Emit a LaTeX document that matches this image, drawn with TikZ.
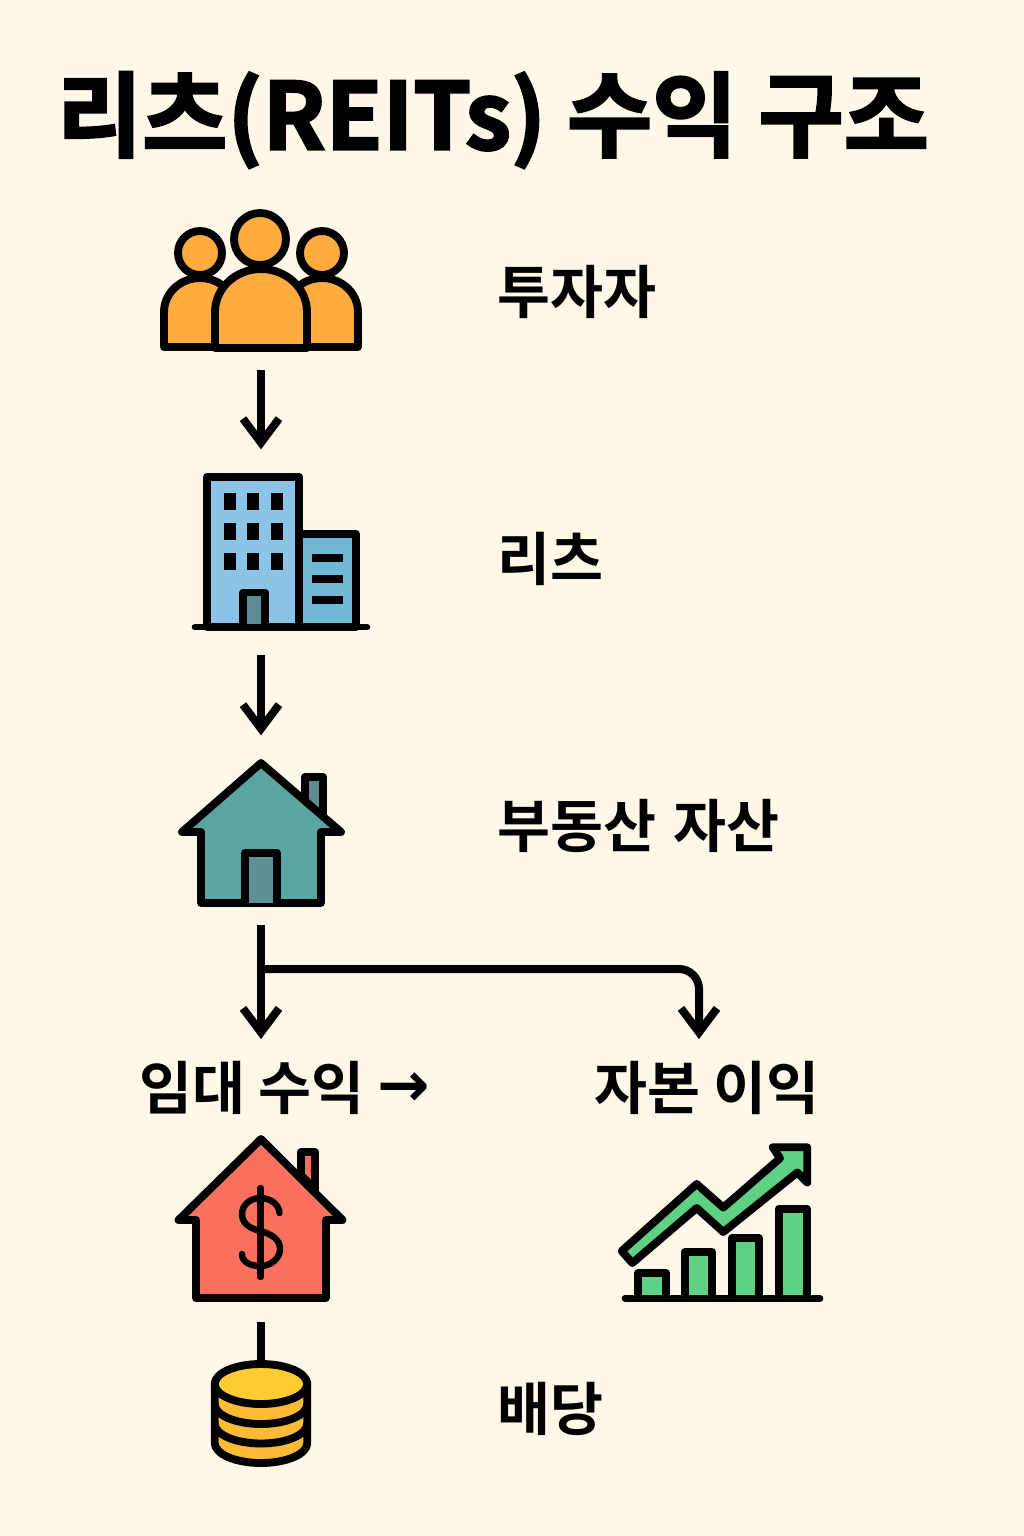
\documentclass[tikz,border=0pt]{standalone}
\usepackage{fontspec}
\usetikzlibrary{arrows.meta}
\newfontfamily\krbold{Noto Sans CJK KR Bold}
\newfontfamily\krtitle[FakeBold=2.5]{Noto Sans CJK KR Bold}
\newfontfamily\arrowfont{DejaVu Sans Bold}
\definecolor{paper}{HTML}{FFF8E8}
\definecolor{people}{HTML}{FFAB40}
\definecolor{towermain}{HTML}{8CC4E8}
\definecolor{towerside}{HTML}{73B7D6}
\definecolor{towerdoor}{HTML}{5F8A94}
\definecolor{tealhouse}{HTML}{5BA5A0}
\definecolor{tealdoor}{HTML}{5E9098}
\definecolor{redhouse}{HTML}{F9705F}
\definecolor{coina}{HTML}{FFCC33}
\definecolor{coinb}{HTML}{FDBB35}
\definecolor{chartgreen}{HTML}{5FD185}
\tikzset{
  x=0.75pt,y=-0.75pt,
  outline/.style={draw=black,line width=5.9pt,line join=round,line cap=round},
  iconbox/.style={inner sep=0pt,outer sep=0pt},
  flow/.style={draw=black,line width=6pt,-{Straight Barb[length=18pt,width=27pt,line width=6pt]}},
  plainlink/.style={draw=black,line width=6pt},
  label/.style={inner sep=0pt,font=\krbold\fontsize{43.2pt}{50pt}\selectfont,text=black},
  titletext/.style={inner sep=0pt,font=\krtitle\fontsize{69.5pt}{80pt}\selectfont,text=black},
}
\begin{document}
\begin{tikzpicture}
\useasboundingbox (0,0) rectangle (1024,1536);
\fill[paper] (0,0) rectangle (1024,1536);

% title
\node[titletext,anchor=center] (title) at (493,120) {리츠(REITs) 수익 구조};

% icon extents
\node[iconbox,minimum width=150pt,minimum height=105pt] (investors) at (261,280) {};
\node[iconbox,minimum width=132pt,minimum height=117pt] (reits) at (281,552) {};
\node[iconbox,minimum width=123pt,minimum height=111pt] (assets) at (261,834) {};
\node[iconbox,minimum width=126pt,minimum height=123pt] (rentalicon) at (261,1219) {};
\node[iconbox,minimum width=72pt,minimum height=78pt] (coins) at (261,1412) {};
\node[iconbox,minimum width=150pt,minimum height=117pt] (chart) at (722,1223) {};

% labels
\node[label,anchor=west] (l1) at (497,292) {투자자};
\node[label,anchor=west] (l2) at (497,559) {리츠};
\node[label,anchor=west] (l3) at (497,826) {부동산\hspace{3.5pt} 자산};
\node[label,anchor=west] (rental) at (139,1088) {임대 수익 {\arrowfont\fontsize{47pt}{50pt}\selectfont\raisebox{2pt}{→}}};
\node[label,anchor=west] (capital) at (594,1088) {자본 이익};
\node[label,anchor=west] (l5) at (497,1409) {배당};

% investors icon
\draw[outline,fill=people] (164,347) -- (164,312) arc[start angle=180,end angle=360,x radius=36,y radius=34] -- (236,347) -- cycle;
\draw[outline,fill=people] (286,347) -- (286,312) arc[start angle=180,end angle=360,x radius=36,y radius=34] -- (358,347) -- cycle;
\draw[outline,fill=people] (200,253) circle[radius=22];
\draw[outline,fill=people] (322,253) circle[radius=22];
\draw[outline,fill=people] (260,239) circle[radius=26];
\draw[outline,fill=people] (215,348) -- (215,312) arc[start angle=180,end angle=360,x radius=46,y radius=43] -- (307,348) -- cycle;

% reits icon
\draw[outline,fill=towerside] (299,534) rectangle (356,627);
\draw[outline,fill=towermain] (207,477) rectangle (299,627);
\foreach \wy/\wh in {493/17,523/17,553/17}
  \foreach \wx in {224,247.3,270.7}
    \fill[black] (\wx,\wy) rectangle ++(12,\wh);
\foreach \wy in {554,575,596}
  \fill[black] (312,\wy) rectangle ++(31,7.7);
\draw[outline,fill=towerdoor] (243,627) -- (243,592.5) -- (265,592.5) -- (265,627);
\draw[outline,line width=5pt] (195,627) -- (367,627);

% asset house icon
\draw[outline,fill=towerdoor] (305,815) -- (305,777) -- (323,777) -- (323,815) -- cycle;
\draw[outline,fill=tealhouse] (201,903) -- (201,832) -- (182,832) -- (261,763) -- (341,832) -- (321,832) -- (321,903) -- cycle;
\draw[outline,fill=tealdoor] (245,903) -- (245,853) -- (277,853) -- (277,903);

% rental house icon
\draw[outline,fill=redhouse] (301,1175) -- (301,1152) -- (315,1152) -- (315,1190) -- cycle;
\draw[outline,fill=redhouse] (196,1298) -- (196,1220) -- (178.5,1220) -- (261,1139) -- (342.5,1220) -- (326,1220) -- (326,1298) -- cycle;
\draw[outline,line width=4.8pt] (260.5,1188) -- (260.5,1277);
\draw[outline,line width=4.8pt] (279.5,1213) .. controls (279,1204) and (270,1198) .. (260.5,1198)
  .. controls (250,1198) and (242,1205) .. (242,1214)
  .. controls (242,1224) and (251,1229) .. (260.5,1231)
  .. controls (271,1234) and (280,1239) .. (280,1249)
  .. controls (280,1259) and (270,1266) .. (260.5,1266)
  .. controls (250,1266) and (242,1262) .. (242,1254);

% coins icon
\draw[outline,fill=coinb] (214.7,1383) -- (214.7,1443) arc[start angle=180,end angle=0,x radius=46.3,y radius=20] -- (307.3,1383) -- cycle;
\draw[outline] (214.7,1404) arc[start angle=180,end angle=0,x radius=46.3,y radius=20];
\draw[outline] (214.7,1423.5) arc[start angle=180,end angle=0,x radius=46.3,y radius=20];
\draw[outline,fill=coina] (261,1384) ellipse[x radius=46.3,y radius=20];

% chart icon
\foreach \ax/\bx/\ty in {638.3/666.3/1273.3,685/711.7/1251.7,732/759/1238.3,778.7/807/1208.7}
  \draw[outline,fill=chartgreen] (\ax,1298) -- (\ax,\ty) -- (\bx,\ty) -- (\bx,1298);
\draw[outline,line width=5pt] (625,1298.3) -- (820,1298.3);
\draw[outline,fill=chartgreen] (621.7,1251) -- (696.7,1184) -- (723.3,1207.5) -- (780,1158.3) -- (772.7,1147.3) -- (807.3,1147.3) -- (807.3,1182.5) -- (797.3,1172.5) -- (723.3,1232) -- (696.7,1208) -- (632.3,1263) -- cycle;

% connectors
\coordinate (rentaltip) at (261,1039);
\coordinate (capitaltip) at (699,1039);
\coordinate (branch) at (261,969);
\draw[flow,shorten <=15pt,shorten >=18.5pt] (investors.south) -- (investors.south |- reits.north);
\draw[flow,shorten <=19pt,shorten >=18.5pt] (reits.south -| investors.south) -- (investors.south |- assets.north);
\draw[flow,shorten <=12.75pt] (assets.south) -- (rentaltip);
\draw[flow,rounded corners=15pt] (branch) -| (capitaltip);
\draw[plainlink,shorten <=16pt] (rentalicon.south) -- (coins.north);
\end{tikzpicture}
\end{document}
